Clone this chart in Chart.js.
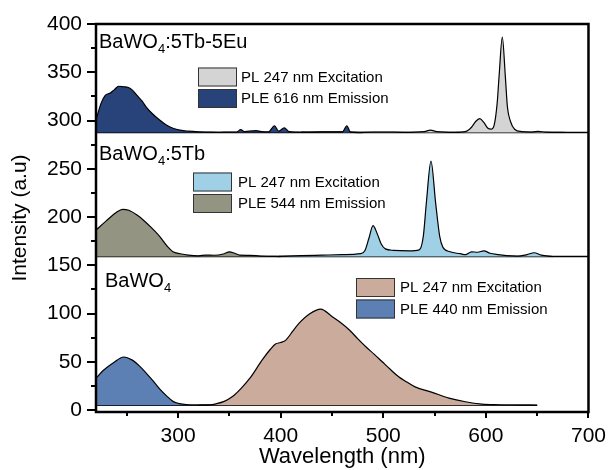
<!DOCTYPE html>
<html>
<head>
<meta charset="utf-8">
<script src="https://cdn.jsdelivr.net/npm/chart.js@4.4.1/dist/chart.umd.min.js"></script>
<style>
html, body { margin: 0; padding: 0; background: #fff; }
</style>
</head>
<body>
<canvas id="canvas1" width="610" height="470"></canvas>
<script>
// ---- data (wavelength in nm, intensity in a.u., panels stacked with offsets) ----
const xTicks = [300, 400, 500, 600, 700];
const yTicks = [0, 50, 100, 150, 200, 250, 300, 350, 400];

// BaWO4:5Tb-5Eu (top panel)
const euBase = 287.5;
const euPleX = [220, 225, 229, 234, 238, 242, 247, 251, 255, 260, 265, 269, 275, 282, 289, 295, 302, 310, 320, 330, 340, 350, 357, 361, 365, 372, 376, 381, 388, 394, 398, 403.5, 408, 415, 430, 450, 460, 464.5, 468, 480];
const euPleY = [300.5, 318, 326, 328.5, 332, 335.5, 335, 334.5, 332, 326, 320, 314, 307, 300.5, 295, 292, 290, 289, 288.3, 288, 287.8, 288, 288, 290.5, 288.5, 289.2, 289.6, 288.5, 288.2, 294.6, 289, 292.5, 288.5, 288, 287.8, 288, 288, 294.6, 288, 287.5];
const euPlX = [420, 440, 460, 480, 500, 520, 540, 546, 552, 570, 580, 586, 590, 594, 598, 602, 605, 608, 611, 613, 616, 619, 621, 624, 628, 635, 645, 651, 658, 680];
const euPlY = [288, 288.3, 288.2, 287.8, 288, 287.8, 288.5, 290, 288.5, 287.8, 288.5, 293, 299, 302, 298, 292, 291, 295, 318, 348, 386.5, 345, 314, 299, 291, 288.5, 288, 288.8, 288, 287.6];

// BaWO4:5Tb (middle panel)
const tbBase = 159;
const tbPleX = [220, 230, 240, 246, 252, 260, 266, 274, 282, 290, 295, 302, 310, 320, 327, 335, 345, 350, 355, 360, 370, 380, 390, 400];
const tbPleY = [186.5, 196, 205, 208, 207, 202, 197, 189, 180, 169, 164, 162, 160.5, 159.8, 160.6, 160.4, 162, 164, 162.5, 160.5, 160.3, 159.6, 159.3, 159];
const tbPlX = [398, 420, 440, 460, 478, 482, 486, 490, 494, 498, 502, 510, 525, 535, 539, 542, 546.5, 551, 555, 558, 565, 575, 580, 586, 592, 598, 604, 612, 620, 630, 640, 647, 654, 665];
const tbPlY = [159.2, 160, 160.5, 161, 162, 165, 178, 191, 183, 172, 167, 165.5, 165, 166, 180, 215, 258, 215, 180, 169, 164, 162, 161, 164, 163.5, 165, 162.5, 161, 160, 159.5, 161, 163, 160.5, 159];

// BaWO4 (bottom panel)
const bwBase = 5;
const bwPleX = [220, 227, 237, 247, 255, 263, 270, 275, 282, 289, 295, 300, 310, 320, 330];
const bwPleY = [33, 41, 49, 55, 52, 45, 37, 31, 22, 14.5, 9, 7, 5.5, 5.2, 5];
const bwPlX = [320, 330, 337, 345, 353, 361, 370, 382, 390, 395, 400, 405, 412, 418, 428, 439, 450, 458, 467, 475, 483, 491, 499, 507, 515, 523, 531, 547, 564, 580, 596, 612, 630, 650];
const bwPlY = [5, 5.3, 6.5, 9, 14, 22, 33, 52, 63, 68.5, 70, 72.5, 82, 90, 99.5, 104.6, 97, 91, 83, 74, 65.6, 58, 50, 42, 34.5, 29, 24, 18.6, 12.4, 8.6, 6.2, 5.5, 5.2, 5];

const sampleNames = [['BaWO', '4', ':5Tb-5Eu'], ['BaWO', '4', ':5Tb'], ['BaWO', '4', '']];
const euLabels = ['PL 247 nm Excitation', 'PLE 616 nm Emission'];
const tbLabels = ['PL 247 nm Excitation', 'PLE 544 nm Emission'];
const bwLabels = ['PL 247 nm Excitation', 'PLE 440 nm Emission'];

const FONT = '"Liberation Sans", Arial, sans-serif';

function pts(xs, ys) {
  return xs.map(function(x, i) { return { x: x, y: ys[i] }; });
}

function spectrum(label, xs, ys, base, color) {
  return {
    label: label,
    data: pts(xs, ys),
    borderColor: '#000',
    borderWidth: 1.2,
    backgroundColor: color,
    fill: { value: base },
    pointRadius: 0,
    cubicInterpolationMode: 'monotone'
  };
}

function baseline(xs, base) {
  return {
    label: 'base',
    data: xs.map(function(x) { return { x: x, y: base }; }),
    borderColor: '#000',
    borderWidth: 1.5,
    pointRadius: 0,
    fill: false
  };
}

const colors = {
  euPl: '#d4d4d4', euPle: '#28437a',
  tbPl: '#9fd0e6', tbPle: '#949482',
  bwPl: '#cbab9c', bwPle: '#5c80b4'
};

// frame, minor ticks, legend boxes and sample labels, drawn over the plot
const decor = {
  id: 'decor',
  afterDatasetsDraw(chart) {
    const ctx = chart.ctx, a = chart.chartArea;
    const xs = chart.scales.x, ys = chart.scales.y;
    ctx.save();
    ctx.strokeStyle = '#000';
    ctx.lineWidth = 2.5;
    ctx.strokeRect(a.left, a.top, a.right - a.left, a.bottom - a.top);

    ctx.lineWidth = 2;
    ctx.beginPath();
    for (let v = 250; v <= 700; v += 50) {
      const px = Math.round(xs.getPixelForValue(v));
      const len = v % 100 === 0 ? 6 : 4;
      ctx.moveTo(px, a.bottom);
      ctx.lineTo(px, a.bottom + len);
    }
    for (let v = 0; v <= 400; v += 25) {
      const py = Math.round(ys.getPixelForValue(v));
      const len = v % 50 === 0 ? 9 : 5;
      ctx.moveTo(a.left - len, py);
      ctx.lineTo(a.left, py);
    }
    ctx.stroke();

    // sample names with subscript
    function sample(parts, x, y) {
      ctx.fillStyle = '#000';
      ctx.textBaseline = 'alphabetic';
      ctx.textAlign = 'left';
      ctx.font = '20px ' + FONT;
      ctx.fillText(parts[0], x, y);
      let w = ctx.measureText(parts[0]).width;
      ctx.font = '13px ' + FONT;
      ctx.fillText(parts[1], x + w, y + 5);
      w += ctx.measureText(parts[1]).width;
      ctx.font = '20px ' + FONT;
      ctx.fillText(parts[2], x + w, y);
    }
    sample(sampleNames[0], 99, 48);
    sample(sampleNames[1], 99, 160);
    sample(sampleNames[2], 105, 287);

    function legend(labels, cols, x, y, tx) {
      ctx.font = '15px ' + FONT;
      ctx.textBaseline = 'middle';
      for (let i = 0; i < 2; i++) {
        const by = y + i * 21.5;
        ctx.fillStyle = cols[i];
        ctx.fillRect(x, by, 39, 19);
        ctx.strokeStyle = '#333';
        ctx.lineWidth = 1;
        ctx.strokeRect(x + 0.5, by + 0.5, 38, 18);
        ctx.fillStyle = '#000';
        ctx.fillText(labels[i], tx, by + 10);
      }
    }
    legend(euLabels, [colors.euPl, colors.euPle], 198, 67.5, 241);
    legend(tbLabels, [colors.tbPl, colors.tbPle], 193, 172.5, 238);
    legend(bwLabels, [colors.bwPl, colors.bwPle], 356, 278, 400);
    ctx.restore();
  }
};

new Chart(document.getElementById('canvas1').getContext('2d'), {
  type: 'line',
  data: {
    datasets: [
      spectrum(bwLabels[1], bwPleX, bwPleY, bwBase, colors.bwPle),
      spectrum(bwLabels[0], bwPlX, bwPlY, bwBase, colors.bwPl),
      baseline([220, 650], bwBase),
      spectrum(tbLabels[1], tbPleX, tbPleY, tbBase, colors.tbPle),
      spectrum(tbLabels[0], tbPlX, tbPlY, tbBase, colors.tbPl),
      baseline([220, 700], tbBase),
      spectrum(euLabels[1], euPleX, euPleY, euBase, colors.euPle),
      spectrum(euLabels[0], euPlX, euPlY, euBase, colors.euPl),
      baseline([220, 700], euBase)
    ]
  },
  options: {
    responsive: false,
    animation: false,
    layout: { padding: { top: 24, right: 20, left: 0, bottom: 0 } },
    plugins: {
      legend: { display: false },
      tooltip: { enabled: false }
    },
    scales: {
      x: {
        type: 'linear',
        min: 220,
        max: 700,
        grid: { display: false },
        border: { display: false },
        afterBuildTicks: function(s) { s.ticks = xTicks.map(function(v) { return { value: v }; }); },
        afterFit: function(s) { s.height = 58; },
        ticks: { color: '#000', padding: 4, maxRotation: 0, font: { family: FONT, size: 21 } },
        title: { display: true, text: 'Wavelength (nm)', color: '#000', padding: 0, font: { family: FONT, size: 22 } }
      },
      y: {
        min: -2,
        max: 400,
        grid: { display: false },
        border: { display: false },
        afterBuildTicks: function(s) { s.ticks = yTicks.map(function(v) { return { value: v }; }); },
        afterFit: function(s) { s.width = 96; },
        ticks: { color: '#000', padding: 6, font: { family: FONT, size: 21 } },
        title: { display: true, text: 'Intensity (a.u)', color: '#000', padding: { top: 8, bottom: 0 }, font: { family: FONT, size: 21 } }
      }
    }
  },
  plugins: [decor]
});
</script>
</body>
</html>
